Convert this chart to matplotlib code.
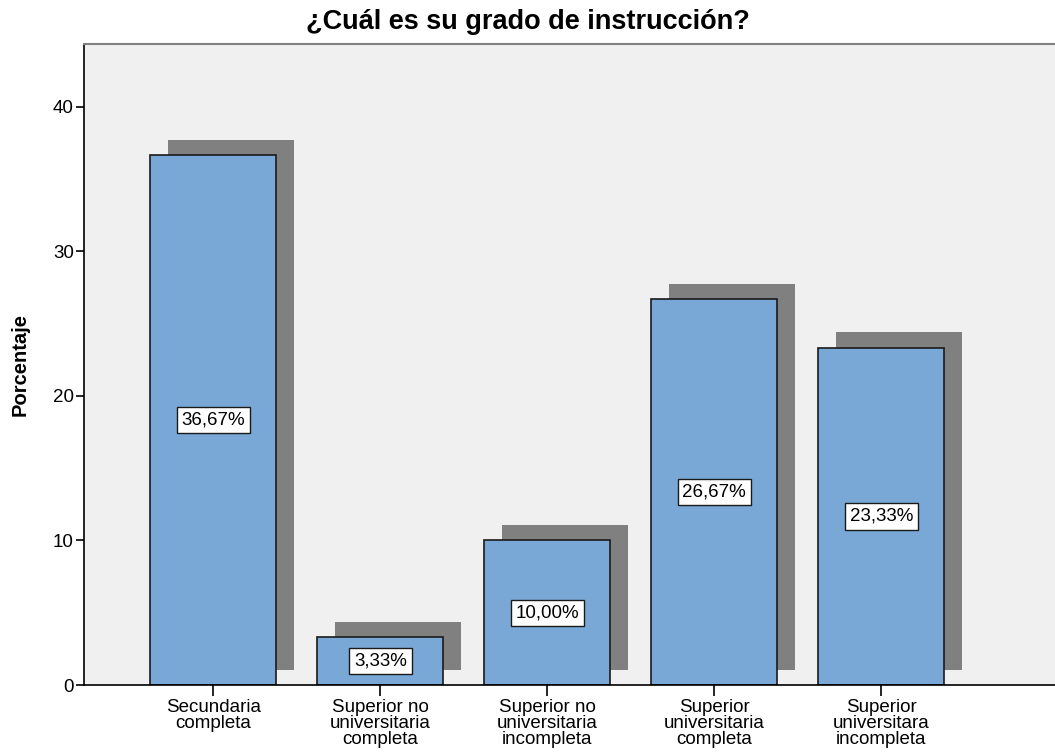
import matplotlib.pyplot as plt
import numpy as np

# Datos
categorias = ["Secundaria\ncompleta",
              "Superior no\nuniversitaria\ncompleta",
              "Superior no\nuniversitaria\nincompleta",
              "Superior\nuniversitaria\ncompleta",
              "Superior\nuniversitara\nincompleta"]
porcentajes = [36.67, 3.33, 10.00, 26.67, 23.33]
etiquetas = ["36,67%", "3,33%", "10,00%", "26,67%", "23,33%"]
yticks = [0, 10, 20, 30, 40]

plt.rcParams['font.family'] = ['Liberation Sans', 'DejaVu Sans']

fig = plt.figure(figsize=(10.55, 7.53), dpi=100)
ax = fig.add_axes([83.5 / 1055, 68 / 753, 1 - 83.5 / 1055, (685 - 44) / 753])
ax.set_facecolor('#f0f0f0')

x = np.arange(len(categorias))
ancho = 0.755

# Sombras
ax.bar(x + 0.105, porcentajes, width=ancho, bottom=1.05, color='#808080', zorder=1)
# Barras
ax.bar(x, porcentajes, width=ancho, color='#79a8d6', edgecolor='#1a1a1a', linewidth=1.2, zorder=2)

# Etiquetas de valor
for xi, v, lab in zip(x, porcentajes, etiquetas):
    ax.text(xi, v / 2, lab, ha='center', va='center', fontsize=13.5, zorder=3,
            bbox=dict(boxstyle='square,pad=0.25', facecolor='white', edgecolor='#1a1a1a', linewidth=1))

ax.set_xlim(-0.778, 5.04)
ax.set_ylim(0, 44.33)
ax.set_yticks(yticks)
ax.set_yticklabels([str(t) for t in yticks], fontsize=13.5)
ax.set_xticks(x)
ax.set_xticklabels(categorias, fontsize=13.5, linespacing=0.93)
ax.tick_params(axis='y', length=6, width=1.2, pad=1)
ax.tick_params(axis='x', length=8, width=1.2, pad=2)

ax.spines['right'].set_visible(False)
ax.spines['top'].set_color('#808080')
ax.spines['top'].set_linewidth(1.5)
ax.spines['left'].set_linewidth(1.2)
ax.spines['bottom'].set_linewidth(1.2)

ax.set_ylabel("Porcentaje", fontsize=14.5, fontweight='bold', labelpad=17)
fig.text(0.5, 1 - 22 / 753, "¿Cuál es su grado de instrucción?", ha='center', va='center',
         fontsize=19.5, fontweight='bold')

fig.savefig("out.png", dpi=100)
